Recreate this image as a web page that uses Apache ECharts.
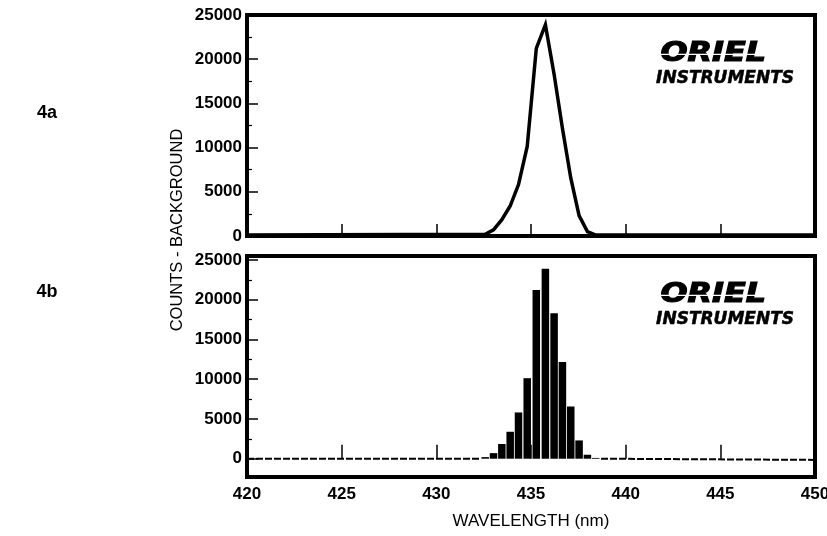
<!DOCTYPE html>
<html>
<head>
<meta charset="utf-8">
<script src="https://cdn.jsdelivr.net/npm/echarts@6/dist/echarts.min.js"></script>
<style>
  html, body { margin: 0; padding: 0; background: #fff; }
  #chart { width: 827px; height: 536px; }
</style>
</head>
<body>
<div id="chart"></div>
<script>
// wavelengths (nm) of the detector pixels around the line, and counts minus background
var peakNm = [432.58, 433.02, 433.46, 433.9, 434.34, 434.8, 435.28, 435.76, 436.22, 436.66, 437.1, 437.54, 437.98, 438.42];
var peakCounts = [200, 700, 1850, 3390, 5820, 10130, 21230, 23900, 18300, 12180, 6570, 2300, 500, 100];
// flat background on either side of the line
var leftNm = [420, 432.3];
var leftCounts = [0, 0];
var rightNm = [438.7, 450];
var rightCounts = [0, -150];
// axis ticks
var xLabels = [420, 425, 430, 435, 440, 445, 450];
var yMajor = [0, 5000, 10000, 15000, 20000, 25000];
var yMinor = [2500, 7500, 12500, 17500, 22500];

function pairs(xs, ys) {
    return xs.map(function (x, i) { return [x, ys[i]]; });
}

var lineData = pairs([leftNm[0]], [100])
    .concat(pairs(peakNm, peakCounts))
    .concat(pairs([rightNm[1]], [100]));

var font = 'Liberation Sans';
var tickLabel = {
    fontFamily: font, fontWeight: 'bold', fontSize: 17, color: '#000',
    formatter: function (v) { return String(v); }
};

function yAxes(grid, min, max) {
    return [
        {
            type: 'value', gridIndex: grid, min: min, max: max, position: 'left',
            axisLine: { show: false }, splitLine: { show: false },
            axisTick: { inside: true, length: 11, customValues: yMajor, lineStyle: { color: '#000', width: 1.5 } },
            axisLabel: Object.assign({ margin: 5, customValues: yMajor }, tickLabel)
        },
        {
            type: 'value', gridIndex: grid, min: min, max: max, position: 'left',
            axisLine: { show: false }, splitLine: { show: false },
            axisTick: { inside: true, length: 5, customValues: yMinor, lineStyle: { color: '#000', width: 1.2 } },
            axisLabel: { show: false }
        }
    ];
}

var logoBig = 'italic bold 27px "DejaVu Sans"';
var logoSmall = 'italic bold 17px "DejaVu Sans"';

function logo(cy) {
    return [
        { type: 'text', x: 766, y: cy, scaleX: 1.18, style: { text: 'ORIEL', font: logoBig, fill: '#000', stroke: '#000', lineWidth: 1.2, textAlign: 'right', textVerticalAlign: 'middle' } },
        { type: 'rect', shape: { x: 640, y: cy - 0.3, width: 130, height: 1.4 }, style: { fill: '#fff' } },
        { type: 'text', x: 794, y: cy + 25, style: { text: 'INSTRUMENTS', font: logoSmall, fill: '#000', stroke: '#000', lineWidth: 0.5, textAlign: 'right', textVerticalAlign: 'middle' } }
    ];
}

var chart = echarts.init(document.getElementById('chart'));
var option = {
    animation: false,
    backgroundColor: '#fff',
    grid: [
        { left: 247, right: 12, top: 15, height: 221, show: true, borderColor: '#000', borderWidth: 4, backgroundColor: 'transparent', outerBoundsMode: 'none', containLabel: false },
        { left: 247, right: 12, top: 256, height: 221, show: true, borderColor: '#000', borderWidth: 4, backgroundColor: 'transparent', outerBoundsMode: 'none', containLabel: false }
    ],
    xAxis: [
        {
            type: 'value', gridIndex: 0, min: 420, max: 450, interval: 5,
            axisLine: { show: false }, splitLine: { show: false },
            axisTick: { inside: true, length: 12, lineStyle: { color: '#000', width: 1.5 } },
            axisLabel: { show: false }
        },
        {
            type: 'value', gridIndex: 1, min: 420, max: 450, interval: 5,
            axisLine: { show: false }, splitLine: { show: false },
            axisTick: { inside: true, length: 14, lineStyle: { color: '#000', width: 1.5 } },
            axisLabel: Object.assign({ margin: 9, customValues: xLabels }, tickLabel)
        }
    ],
    yAxis: yAxes(0, 0, 25000).concat(yAxes(1, -2300, 25500)),
    series: [
        {
            type: 'line', xAxisIndex: 0, yAxisIndex: 0, data: lineData,
            showSymbol: false, lineStyle: { color: '#000', width: 3.5, join: 'miter' }
        },
        {
            type: 'bar', xAxisIndex: 1, yAxisIndex: 2, data: pairs(peakNm, peakCounts),
            barWidth: 7.5, itemStyle: { color: '#000' }
        },
        {
            type: 'line', xAxisIndex: 1, yAxisIndex: 2, data: pairs(leftNm, leftCounts),
            showSymbol: false, lineStyle: { color: '#000', width: 2, type: [7, 2] }
        },
        {
            type: 'line', xAxisIndex: 1, yAxisIndex: 2, data: pairs(rightNm, rightCounts),
            showSymbol: false, lineStyle: { color: '#000', width: 2, type: [7, 2] }
        }
    ],
    graphic: [
        { type: 'text', x: 47, y: 113, style: { text: '4a', font: 'bold 18px ' + font, fill: '#000', textAlign: 'center', textVerticalAlign: 'middle' } },
        { type: 'text', x: 47, y: 292, style: { text: '4b', font: 'bold 18px ' + font, fill: '#000', textAlign: 'center', textVerticalAlign: 'middle' } },
        { type: 'text', x: 177, y: 230, rotation: Math.PI / 2, style: { text: 'COUNTS - BACKGROUND', font: '16.5px ' + font, fill: '#000', textAlign: 'center', textVerticalAlign: 'middle' } },
        { type: 'text', x: 531, y: 521, style: { text: 'WAVELENGTH (nm)', font: '17px ' + font, fill: '#000', textAlign: 'center', textVerticalAlign: 'middle' } }
    ].concat(logo(54)).concat(logo(295))
};
chart.setOption(option);
</script>
</body>
</html>
